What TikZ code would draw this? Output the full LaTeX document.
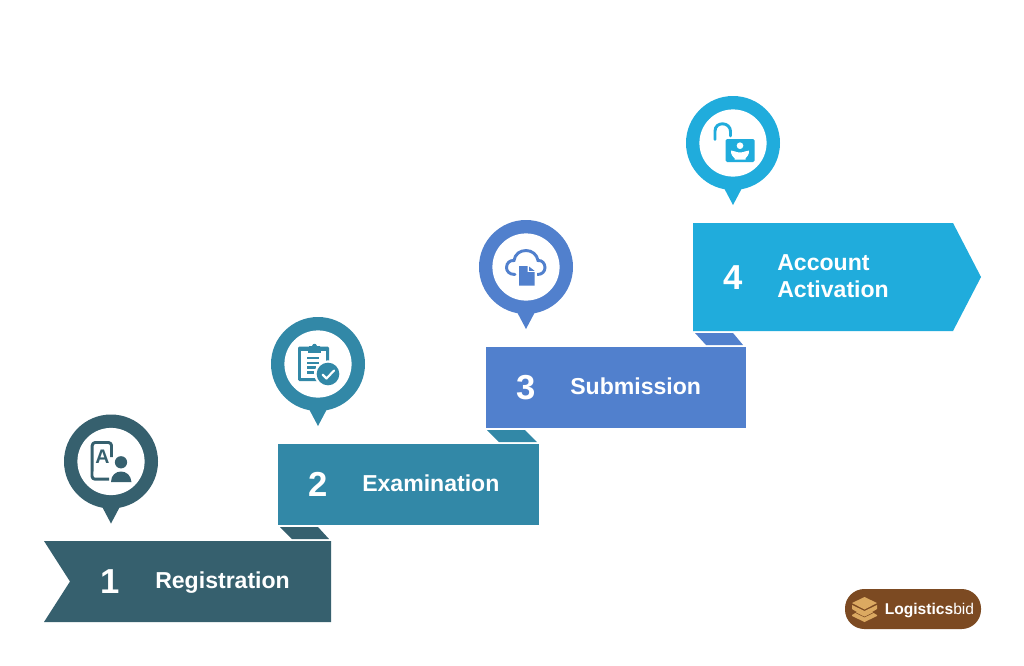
\documentclass[tikz,border=0pt]{standalone}
\usepackage{fontspec}
\setmainfont{Liberation Sans}
\definecolor{cA}{HTML}{36606E}
\definecolor{cB}{HTML}{3288A7}
\definecolor{cC}{HTML}{5180CD}
\definecolor{cD}{HTML}{20ACDC}
\definecolor{logoBg}{HTML}{7C4A22}
\definecolor{logoBox}{HTML}{DBA961}
\tikzset{
  x=0.75pt,y=-0.75pt,
  steplabel/.style={text=white,font=\bfseries\fontsize{17.3}{20}\selectfont,anchor=base west,inner sep=0pt},
  stepnum/.style={text=white,font=\bfseries\fontsize{26}{30}\selectfont,anchor=base,inner sep=0pt},
  pinhole/.style={fill=white,draw=none},
  iconline/.style={line width=2.2pt},
}
% #1 colour, #2 x, #3 y (centre of the pin)
\newcommand{\pinmark}[3]{%
  \fill[#1] (#2,#3) circle[radius=35.25pt];
  \fill[#1] (#2-9,#3+45) -- (#2,#3+62) -- (#2+9,#3+45) -- cycle;
  \fill[pinhole] (#2,#3) circle[radius=25.2pt];
}
\begin{document}
\begin{tikzpicture}
\useasboundingbox (0,0) rectangle (1024,665);
\fill[white] (0,0) rectangle (1024,665);

% ribbon folds
\fill[cA] (280,527) -- (318,527) -- (329,539) -- (292,539) -- cycle;
\fill[cB] (487,430) -- (525,430) -- (537,442) -- (499,442) -- cycle;
\fill[cC] (695,333) -- (733,333) -- (743,345) -- (706,345) -- cycle;

% ribbons
\fill[cA] (44,541) -- (331,541) -- (331,622) -- (44,622) -- (70,581.5) -- cycle;
\fill[cB] (278,444) rectangle (539,525);
\fill[cC] (486,347) rectangle (746,428);
\fill[cD] (693,223) -- (953,223) -- (981,277) -- (953,331) -- (693,331) -- cycle;

% numbers and labels
\node[stepnum] (n1) at (110,593) {1};
\node[steplabel] (t1) at (155,588.5) {Registration};
\node[stepnum] (n2) at (318,496) {2};
\node[steplabel] (t2) at (362,491) {Examination};
\node[stepnum] (n3) at (526,399) {3};
\node[steplabel] (t3) at (570,394) {Submission};
\node[stepnum] (n4) at (733,289) {4};
\node[steplabel] (t4a) at (777,270) {Account};
\node[steplabel] (t4b) at (777,297) {Activation};

% pins
\pinmark{cA}{111}{461.5}
\pinmark{cB}{318}{364}
\pinmark{cC}{526}{267}
\pinmark{cD}{733}{143}

% icon 1: form and person
\draw[cA,iconline,line join=round]
  (109,479.2) -- (95,479.2)
  arc[start angle=90,end angle=180,radius=3] -- (92.2,445.5)
  arc[start angle=180,end angle=270,radius=3] -- (108.5,442.5)
  arc[start angle=270,end angle=360,radius=3] -- (111.5,457);
\node[text=cA,font=\bfseries\fontsize{14.7}{15}\selectfont,inner sep=0pt,anchor=base] (a1) at (102.5,463.5) {A};
\fill[cA] (121,462.3) circle[radius=4.6pt];
\fill[cA] (111,482) .. controls (111,475) and (116,471.5) .. (121,471.5) .. controls (126,471.5) and (131,475) .. (131.5,482) -- cycle;

% icon 2: clipboard with check
\fill[cB,rounded corners=1pt] (298,346.5) rectangle (329,381);
\fill[cB] (309,350) -- (309,346) -- (312,346) .. controls (313,343) and (316,343) .. (317,346) -- (320,346) -- (320,350) -- cycle;
\fill[white] (301,351) rectangle (326,378);
\fill[cB] (308,349) rectangle (321,353);
\foreach \ly/\lw in {356.5/319,361.5/319,366.2/316,371/314}
  \fill[cB] (306.5,\ly) rectangle (\lw,\ly+2.5);
\fill[white] (328,374) circle[radius=10.2pt];
\fill[cB] (328,374) circle[radius=8.5pt];
\draw[white,line width=1.6pt,line cap=round,line join=round] (322.5,374.5) -- (326.5,378.5) -- (334,370.5);

% icon 3: cloud and document
\draw[cC,iconline,line cap=round]
  (515,274.5) .. controls (509,274.5) and (506.5,271) .. (506.5,267.5)
  .. controls (506.5,263) and (510,260) .. (514,260.5)
  .. controls (515,254) and (520,250.5) .. (526,250.5)
  .. controls (532,250.5) and (537,254.5) .. (538,260.5)
  .. controls (542,260) and (545,263.5) .. (545,267.5)
  .. controls (545,271.5) and (542,274.5) .. (537.5,274.5);
\fill[white] (516.5,263.5) rectangle (536.5,288);
\fill[cC] (519,266) -- (527.5,266) -- (527.5,272) -- (534.5,272) -- (534.5,285.5) -- (519,285.5) -- cycle;
\fill[cC] (529,266.5) -- (534.5,270.8) -- (529,270.8) -- cycle;

% icon 4: open lock with person
\draw[cD,iconline,line cap=round]
  (715,139.5) -- (715,131) .. controls (715,126) and (719,123.8) .. (722.5,123.8)
  .. controls (727,123.8) and (730.5,127) .. (730.5,131.5) -- (730.5,136);
\fill[cD,rounded corners=1pt] (725.7,139) rectangle (754.5,162);
\fill[white] (740,145.7) circle[radius=2.5pt];
\fill[white] (731,150.5) .. controls (734,150.5) and (736,152.5) .. (740,152.5)
  .. controls (744,152.5) and (746,150.5) .. (749,150.5)
  .. controls (749.5,154) and (747,157) .. (745.5,158)
  -- (745.5,159.5) -- (734.5,159.5) -- (734.5,158)
  .. controls (733,157) and (730.5,154) .. (731,150.5) -- cycle;

% logo
\fill[logoBg,rounded corners=14.5pt] (845,589) rectangle (981,629);
\fill[logoBox] (864.5,597) -- (877,603) -- (864.5,609.5) -- (852,603) -- cycle;
\fill[logoBox] (852,605) -- (864.5,611) -- (877,605) -- (877,609) -- (872,612) -- (877,615) -- (877,616) -- (864.5,622) -- (852,616) -- (852,615) -- (857,612) -- (852,609) -- cycle;
\draw[logoBg,line width=0.4pt] (852,611) -- (864.5,617) -- (877,611);
\node[text=white,font=\fontsize{11.7}{14}\selectfont,anchor=base west,inner sep=0pt] (logo) at (884.5,614.5) {\textbf{Logistics}bid};
\end{tikzpicture}
\end{document}
